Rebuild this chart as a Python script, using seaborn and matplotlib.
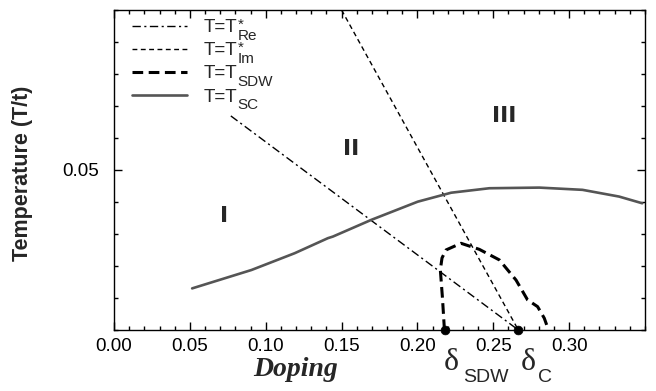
import matplotlib
matplotlib.use("Agg")
import matplotlib.pyplot as plt
import seaborn as sns
from matplotlib.ticker import MultipleLocator, FixedLocator

sns.set_theme(style="ticks")
plt.rcParams['font.family'] = ['Liberation Sans', 'DejaVu Sans']

# ---- data ----
re_x = [0.077, 0.2665]
re_y = [0.0669, 0.0]

im_x = [0.150, 0.2665]
im_y = [0.100, 0.0]

sdw_x = [0.2178, 0.2165, 0.2151, 0.2162, 0.2188, 0.2287, 0.2408, 0.254, 0.265, 0.2726, 0.2792, 0.2836, 0.2864]
sdw_y = [0.0, 0.010, 0.0188, 0.0225, 0.0250, 0.0271, 0.0252, 0.0219, 0.0156, 0.0094, 0.0073, 0.0037, 0.0]

sc_x = [0.0515, 0.0906, 0.1191, 0.1410, 0.1443, 0.1695, 0.2002, 0.2222, 0.2474, 0.2803, 0.3088, 0.3329, 0.3482]
sc_y = [0.0130, 0.01875, 0.0240, 0.0287, 0.0292, 0.0344, 0.0401, 0.0429, 0.0443, 0.0445, 0.0438, 0.0417, 0.0396]

crit_x = [0.218, 0.2665]
crit_y = [0.0, 0.0]

xticks = [0.00, 0.05, 0.10, 0.15, 0.20, 0.25, 0.30]
xticklabels = ["0.00", "0.05", "0.10", "0.15", "0.20", "0.25", "0.30"]
yticks = [0.05]
yticklabels = ["0.05"]

regions = ["I", "II", "III"]
region_x = [0.0725, 0.156, 0.257]
region_y = [0.0355, 0.0565, 0.0670]

leg_main = ["T=T", "T=T", "T=T", "T=T"]
leg_sup = ["*", "*", "", ""]
leg_sub = ["Re", "Im", "SDW", "SC"]

# ---- figure ----
W, H = 656, 391
fig = plt.figure(figsize=(6.56, 3.91), dpi=100)
ax = fig.add_axes([114/W, 61/H, 531/W, 320/H])

sns.lineplot(x=re_x, y=re_y, ax=ax, sort=False, estimator=None, color="black",
             linewidth=1.0, label=leg_main[0])
ax.lines[-1].set_dashes([6, 2.5, 1.5, 2.5])
sns.lineplot(x=im_x, y=im_y, ax=ax, sort=False, estimator=None, color="black",
             linewidth=1.0, label=leg_main[1])
ax.lines[-1].set_dashes([3.5, 2.5])
sns.lineplot(x=sdw_x, y=sdw_y, ax=ax, sort=False, estimator=None, color="black",
             linewidth=2.2, label=leg_main[2])
ax.lines[-1].set_dashes([3.5, 1.8])
sns.lineplot(x=sc_x, y=sc_y, ax=ax, sort=False, estimator=None, color="#555555",
             linewidth=1.9, label=leg_main[3])

sns.scatterplot(x=crit_x, y=crit_y, ax=ax, color="black", s=40, zorder=5,
                clip_on=False, legend=False, edgecolor="black")

for t, x, y in zip(regions, region_x, region_y):
    ax.text(x, y, t, fontsize=16, fontweight="bold", ha="center", va="center",
            family="DejaVu Sans")

ax.set_xlim(0, 0.35)
ax.set_ylim(0, 0.10)
ax.xaxis.set_major_locator(FixedLocator(xticks))
ax.set_xticklabels(xticklabels)
ax.xaxis.set_minor_locator(MultipleLocator(0.01))
ax.yaxis.set_major_locator(FixedLocator(yticks))
ax.set_yticklabels(yticklabels)
ax.yaxis.set_minor_locator(MultipleLocator(0.01))
ax.tick_params(which="both", direction="in", top=True, right=True, colors="black",
               labelsize=13.5, width=1)
ax.tick_params(which="major", length=6)
ax.tick_params(which="minor", length=3)
ax.tick_params(axis="x", which="major", pad=6)
ax.tick_params(axis="y", which="major", pad=11)
for s in ax.spines.values():
    s.set_color("black")
    s.set_linewidth(1.0)

ax.set_ylabel("Temperature (T/t)", fontsize=15.5, fontweight="bold")
ax.yaxis.set_label_coords((33 - 114)/531, 0.49)
ax.set_xlabel("")
fig.text(296/W, 1 - 369/H, "Doping", fontsize=20, fontweight="bold", style="italic",
         family="Liberation Serif", ha="center", va="center")
fig.text(451/W, 1 - 363/H, "δ", fontsize=23, family="Liberation Serif", ha="center", va="center")
fig.text(463/W, 1 - 382/H, "SDW", fontsize=14, ha="left", va="baseline")
fig.text(528/W, 1 - 363/H, "δ", fontsize=23, family="Liberation Serif", ha="center", va="center")
fig.text(538/W, 1 - 382/H, "C", fontsize=14, ha="left", va="baseline")

leg = ax.legend(loc="upper left", bbox_to_anchor=((132 - 114)/531, (330 - 19)/320),
                frameon=False, fontsize=13.5, handlelength=2.95, handletextpad=0.85,
                labelspacing=0.32, borderaxespad=0, borderpad=0)

# attach the superscript / subscript parts to the legend texts
fig.canvas.draw()
renderer = fig.canvas.get_renderer()
for txt, sup, sub in zip(leg.get_texts(), leg_sup, leg_sub):
    bb = txt.get_window_extent(renderer)
    base = bb.y0 + 0.22 * bb.height  # approximate baseline of "T=T"
    x = (bb.x1 + 0.5) / W
    if sup:
        fig.text(x, (base - 7.5) / H, sup + "\n" + sub, fontsize=11, ha="left",
                 va="baseline", linespacing=0.72)
    else:
        fig.text(x, (base - 7.5) / H, sub, fontsize=11, ha="left", va="baseline")

fig.savefig("out.png", dpi=100)
